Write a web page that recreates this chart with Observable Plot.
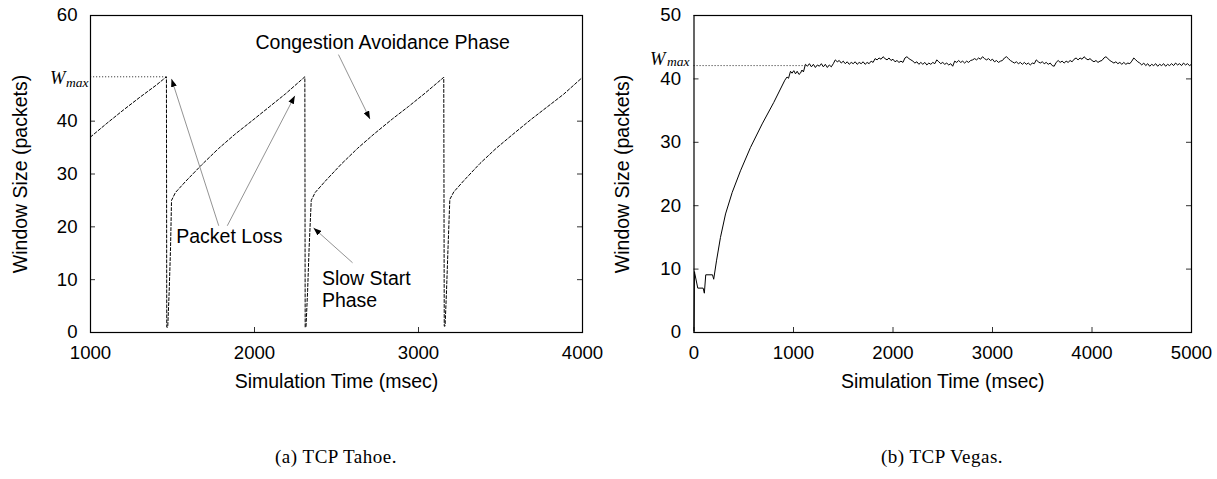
<!DOCTYPE html>
<html><head><meta charset="utf-8">
<script src="https://cdn.jsdelivr.net/npm/d3@7"></script>
<script src="https://cdn.jsdelivr.net/npm/@observablehq/plot@0.6"></script>
<style>
html,body{margin:0;padding:0;background:#fff;}
#page{position:relative;width:1217px;height:479px;overflow:hidden;background:#fff;}
#chartA{position:absolute;left:0;top:0;}
#chartB{position:absolute;left:608px;top:0;}
.cap{position:absolute;top:447px;width:300px;text-align:center;font-family:"Liberation Serif","Times New Roman",serif;font-size:19px;line-height:19px;letter-spacing:0.5px;color:#000;}
</style></head><body>
<div id="page"><div id="chartA"></div><div id="chartB"></div>
<div class="cap" id="capA" style="left:186px">(a) TCP Tahoe.</div>
<div class="cap" id="capB" style="left:792px">(b) TCP Vegas.</div>
</div>
<script>
// ---- data: (a) TCP Tahoe ----
const tahoeTime = [1000,1100,1200,1300,1400,1463,
  1465,1471,1480,1488,1494,1518,1580,1680,1780,1880,1990,2090,2190,2307,
  2309,2314,2324,2333,2346,2370,2430,2530,2630,2730,2840,2940,3040,3154,
  3157,3162,3171,3180,3191,3215,3275,3375,3475,3575,3685,3785,3885,4000];
const tahoeWin = [37.0,39.6,42.1,44.5,46.8,48.4,
  1.0,1.0,8,16,25.0,26.5,28.6,31.8,34.8,37.5,40.2,42.7,45.2,48.4,
  1.0,1.0,8,16,25.0,26.5,28.6,31.9,34.9,37.6,40.4,42.8,45.3,48.3,
  1.2,1.2,8,16,25.2,26.6,28.7,32.0,34.9,37.5,40.3,42.7,45.1,48.3];
const tahoeXTicks = [1000,2000,3000,4000];
const tahoeYTicks = [0,10,20,30,40,60];
const tahoeWmax = 48.4, tahoeWmaxStart = 1000, tahoeWmaxEnd = 1463;

// annotations (a)
const noteLabels = ["Congestion Avoidance Phase","Packet Loss","Slow Start\nPhase"];
const noteT = [2006, 1523, 2411];
const noteW = [53.6, 16.9, 4.9];
const arrowFromT = [1782, 1834, 2512, 2598];
const arrowFromW = [20.2, 20.2, 52.6, 13.2];
const arrowToT = [1494, 2246, 2704, 2360];
const arrowToW = [48.0, 44.8, 40.4, 19.8];

// ---- data: (b) TCP Vegas ----
const vegasEarlyTime = [0,5,8,38,92,104,118,186,198,226,266,317,384,467,568,685,802,913,935,950,
  970,985,1003,1020,1037,1055,1070,1085,1100,1120];
const vegasEarlyWin = [0.3,9.6,9.3,7.0,7.0,6.2,9.1,9.1,8.4,11.3,15.0,18.7,22.1,25.5,29.2,32.9,36.3,39.8,40.3,40.1,
  41.2,40.9,41.3,40.8,41.2,40.7,40.9,41.4,41.1,42.3];
const vegasSteadyStart = 1140, vegasSteadyStep = 20;
const vegasSteadyWin = [
  42.0,42.4,41.9,42.3,41.8,42.2,42.0,42.4,41.9,42.3,41.8,42.2,41.9,42.4,
  43.0,
  42.7,42.9,42.5,42.8,42.4,42.7,42.3,42.6,42.4,42.7,42.3,42.6,42.4,42.7,42.3,42.6,42.4,42.8,42.6,
  43.2,43.0,43.3,43.1,43.5,43.2,43.0,43.3,42.9,43.1,
  42.7,42.9,42.6,42.8,42.6,
  43.3,43.5,43.2,43.0,42.8,
  42.5,42.7,42.3,42.6,42.3,42.6,42.2,42.5,42.3,42.6,42.4,
  43.0,42.7,42.4,
  42.6,42.3,42.5,42.2,42.4,42.0,
  42.8,42.6,42.9,42.6,42.8,42.5,42.8,42.6,42.9,43.0,
  43.2,43.0,43.3,43.1,43.5,43.2,43.0,43.2,42.9,43.1,
  42.7,42.9,42.6,42.8,42.9,
  43.3,43.5,43.2,42.9,42.7,
  42.5,42.7,42.4,42.6,42.3,42.6,42.3,42.5,42.2,42.5,42.4,
  43.0,42.7,42.5,
  42.7,42.4,42.6,42.3,42.5,42.1,42.0,
  42.6,42.9,42.6,42.8,42.5,42.8,42.6,42.9,42.7,43.1,
  43.3,43.0,43.3,43.1,43.5,43.2,43.0,43.2,42.9,
  42.7,42.9,42.6,42.8,42.9,
  43.3,43.5,43.2,42.9,42.7,
  42.5,42.7,42.4,42.6,42.3,42.6,42.3,42.5,42.4,42.8,
  43.3,43.0,42.7,42.5,
  42.2,42.5,42.1,42.4,42.0,42.3,42.1,42.4,42.0,42.3,42.1,42.4,42.0,42.3,42.1,42.4,42.1,42.5,42.2,42.4,42.1,42.5,42.2,42.4,42.1,42.3];
const vegasXTicks = [0,1000,2000,3000,4000,5000];
const vegasYTicks = [0,10,20,30,40,50];
const vegasWmax = 42.1, vegasWmaxStart = 0, vegasWmaxEnd = 1120;

// ---- tables ----
const tahoe = tahoeTime.map((t, i) => ({t, w: tahoeWin[i]}));
const vegas = vegasEarlyTime.map((t, i) => ({t, w: vegasEarlyWin[i]}))
  .concat(vegasSteadyWin.map((w, i) => ({t: vegasSteadyStart + i * vegasSteadyStep, w})));
const notes = noteLabels.map((label, i) => ({label, t: noteT[i], w: noteW[i]}));
const arrows = arrowFromT.map((t, i) => ({t1: t, w1: arrowFromW[i], t2: arrowToT[i], w2: arrowToW[i]}));

const SANS = "'Liberation Sans', Arial, Helvetica, sans-serif";
const SERIF = "'Liberation Serif', 'Times New Roman', serif";
const H = 410, MT = 15, MB = 78;
const frameH = H - MT - MB;

function baseMarks(width, ml, mr, xTicks, yTicks, yLabelDx) {
  const fw = width - ml - mr;
  return [
    Plot.axisX({ticks: xTicks, tickSize: 0, tickPadding: 13, tickFormat: "d", label: null}),
    Plot.axisY({ticks: yTicks, tickSize: 0, tickPadding: 13, tickFormat: "d", label: null}),
    Plot.tickY(yTicks, {y: d => d, insetRight: fw - 5, stroke: "#333", strokeWidth: 1}),
    Plot.tickY(yTicks, {y: d => d, insetLeft: fw - 5, stroke: "#333", strokeWidth: 1}),
    Plot.tickX(xTicks, {x: d => d, insetTop: frameH - 5, stroke: "#333", strokeWidth: 1}),
    Plot.text(["Simulation Time (msec)"], {frameAnchor: "bottom", textAnchor: "middle", dy: 55, lineAnchor: "bottom", fontSize: 19.5}),
    Plot.text(["Window Size (packets)"], {frameAnchor: "left", textAnchor: "middle", rotate: -90, dx: yLabelDx, fontSize: 19.5})
  ];
}

function wmaxMarks(val, x0, x1, wDx, mDx, wDy, mDy) {
  return [
    Plot.ruleY([val], {x1: x0, x2: x1, stroke: "#444", strokeWidth: 1, strokeDasharray: "1.2,1.8"}),
    Plot.text(["W"], {x: x0, y: val, textAnchor: "end", lineAnchor: "bottom", dx: wDx, dy: wDy,
      fontFamily: SERIF, fontStyle: "italic", fontSize: 18.5}),
    Plot.text(["max"], {x: x0, y: val, textAnchor: "end", lineAnchor: "bottom", dx: mDx, dy: mDy,
      fontFamily: SERIF, fontStyle: "italic", fontSize: 13.5})
  ];
}

const styleOpts = {fontFamily: SANS, fontSize: "18.6px", background: "white", color: "black", overflow: "visible"};

// ---- chart (a) ----
const plotA = Plot.plot({
  width: 608, height: H, marginLeft: 90, marginRight: 26, marginTop: MT, marginBottom: MB,
  style: styleOpts,
  x: {domain: [1000, 4000]},
  y: {domain: [0, 60]},
  marks: [
    ...baseMarks(608, 90, 26, tahoeXTicks, tahoeYTicks, -69.5),
    ...wmaxMarks(tahoeWmax, tahoeWmaxStart, tahoeWmaxEnd, -25, -2, 7.3, 10.5),
    Plot.line(tahoe, {x: "t", y: "w", stroke: "black", strokeWidth: 1, strokeDasharray: "3,2"}),
    Plot.link(arrows, {x1: "t1", y1: "w1", x2: "t2", y2: "w2", stroke: "#777", strokeWidth: 0.8}),
    Plot.text(notes, {x: "t", y: "w", text: "label", textAnchor: "start", lineAnchor: "bottom", lineHeight: 1.12, fontSize: 19.5}),
    Plot.frame({stroke: "black", strokeWidth: 1.2})
  ]
});

// ---- chart (b) ----
const plotB = Plot.plot({
  width: 609, height: H, marginLeft: 85.5, marginRight: 26, marginTop: MT, marginBottom: MB,
  style: styleOpts,
  x: {domain: [0, 5000]},
  y: {domain: [0, 50]},
  marks: [
    ...baseMarks(609, 85.5, 26, vegasXTicks, vegasYTicks, -71.5),
    ...wmaxMarks(vegasWmax, vegasWmaxStart, vegasWmaxEnd, -28.5, -4.5, -0.5, 0.5),
    Plot.line(vegas, {x: "t", y: "w", stroke: "black", strokeWidth: 1}),
    Plot.frame({stroke: "black", strokeWidth: 1.2})
  ]
});

document.getElementById("chartA").appendChild(plotA);
document.getElementById("chartB").appendChild(plotB);

// filled arrow heads on the annotation links
(function addHeads(svg) {
  const ns = "http://www.w3.org/2000/svg";
  const defs = document.createElementNS(ns, "defs");
  const m = document.createElementNS(ns, "marker");
  m.setAttribute("id", "ahead");
  m.setAttribute("viewBox", "0 0 8 6");
  m.setAttribute("refX", "8");
  m.setAttribute("refY", "3");
  m.setAttribute("markerWidth", "8");
  m.setAttribute("markerHeight", "6");
  m.setAttribute("markerUnits", "userSpaceOnUse");
  m.setAttribute("orient", "auto");
  const p = document.createElementNS(ns, "path");
  p.setAttribute("d", "M0,0L8,3L0,6Z");
  p.setAttribute("fill", "black");
  m.appendChild(p);
  defs.appendChild(m);
  svg.insertBefore(defs, svg.firstChild);
  svg.querySelectorAll('g[aria-label="link"] path').forEach(el => el.setAttribute("marker-end", "url(#ahead)"));
})(plotA);
</script>
</body></html>
